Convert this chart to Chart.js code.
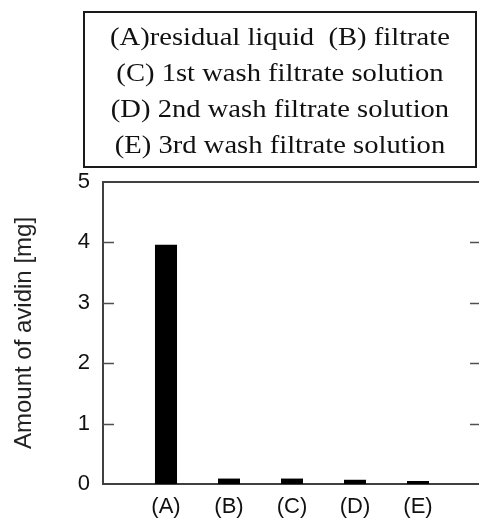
<!DOCTYPE html>
<html lang="en">
<head>
    <meta charset="UTF-8">
    <title>Amount of avidin</title>
    <script src="https://cdn.jsdelivr.net/npm/chart.js"></script>
    <style>
        html, body {
            margin: 0;
            padding: 0;
            overflow: hidden;
            background: #fff;
        }

        #chart-container {
            position: absolute;
            left: 0;
            top: 0;
            width: 500px;
            height: 520px;
        }

        #legend-box {
            position: absolute;
            left: 83px;
            top: 11px;
            width: 390px;
            height: 147px;
            border: 2px solid #1a1a1a;
            font-family: "Liberation Serif", "Times New Roman", serif;
            font-size: 26px;
            color: #111;
            text-align: center;
            padding-top: 6px;
            box-sizing: content-box;
        }

        #legend-box div {
            height: 36px;
            line-height: 36px;
            white-space: pre;
            transform: scaleX(1.1);
        }
    </style>
</head>
<body>
    <div id="chart-container">
        <canvas id="avidinChart"></canvas>
    </div>

    <div id="legend-box">
        <div>(A)residual liquid  (B) filtrate</div>
        <div>(C) 1st wash filtrate solution</div>
        <div>(D) 2nd wash filtrate solution</div>
        <div>(E) 3rd wash filtrate solution</div>
    </div>

    <script>
        // data
        const categories = ['(A)', '(B)', '(C)', '(D)', '(E)'];
        const avidinMg = [3.96, 0.09, 0.09, 0.07, 0.05];
        const yTicks = [0, 1, 2, 3, 4, 5];

        const points = categories.map((c, i) => ({ x: i + 1, y: avidinMg[i] }));

        // frame on top/right + ticks pointing inward on both sides
        const framePlugin = {
            id: 'frame',
            afterDraw(chart) {
                const ctx = chart.ctx;
                const area = chart.chartArea;
                const y = chart.scales.y;
                ctx.save();
                ctx.strokeStyle = '#404040';
                ctx.lineWidth = 2;
                ctx.beginPath();
                ctx.moveTo(area.left, area.top);
                ctx.lineTo(area.right, area.top);
                ctx.lineTo(area.right, area.bottom);
                ctx.stroke();

                ctx.strokeStyle = '#505050';
                ctx.lineWidth = 1.5;
                yTicks.forEach(v => {
                    if (v === 0 || v === 5) return;
                    const py = Math.round(y.getPixelForValue(v)) + 0.5;
                    ctx.beginPath();
                    ctx.moveTo(area.left, py);
                    ctx.lineTo(area.left + 11, py);
                    ctx.moveTo(area.right - 11, py);
                    ctx.lineTo(area.right, py);
                    ctx.stroke();
                });
                ctx.restore();
            }
        };

        new Chart(document.getElementById('avidinChart').getContext('2d'), {
            type: 'bar',
            data: {
                datasets: [{
                    data: points,
                    backgroundColor: '#000',
                    borderWidth: 0,
                    categoryPercentage: 1,
                    barPercentage: 0.35
                }]
            },
            options: {
                responsive: true,
                maintainAspectRatio: false,
                animation: false,
                layout: {
                    padding: { left: 0, top: 182, right: 19, bottom: 0 }
                },
                plugins: {
                    legend: { display: false },
                    tooltip: { enabled: false }
                },
                scales: {
                    x: {
                        type: 'linear',
                        offset: false,
                        min: 0,
                        max: 6,
                        afterFit: scale => { scale.height = 36; },
                        grid: { display: false, drawTicks: false },
                        border: { display: true, color: '#404040', width: 2 },
                        ticks: {
                            stepSize: 1,
                            padding: 10,
                            maxRotation: 0,
                            color: '#111',
                            font: { family: 'Liberation Sans, Arial', size: 22 },
                            callback: v => categories[v - 1] || ''
                        }
                    },
                    y: {
                        min: 0,
                        max: 5,
                        afterFit: scale => { scale.width = 103; },
                        grid: { display: false, drawTicks: false },
                        border: { display: true, color: '#404040', width: 2 },
                        ticks: {
                            stepSize: 1,
                            padding: 13,
                            color: '#111',
                            font: { family: 'Liberation Sans, Arial', size: 22 }
                        },
                        title: {
                            display: true,
                            text: 'Amount of avidin [mg]',
                            color: '#222',
                            padding: { top: 10, bottom: 0 },
                            font: { family: 'Liberation Sans, Arial', size: 24 }
                        }
                    }
                }
            },
            plugins: [framePlugin]
        });
    </script>
</body>
</html>
